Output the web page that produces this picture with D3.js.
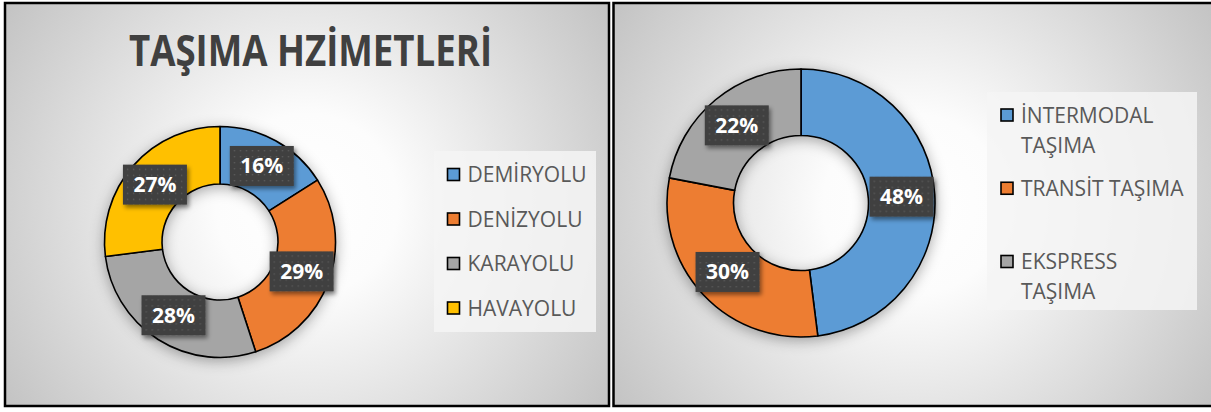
<!DOCTYPE html>
<html>
<head>
<meta charset="utf-8">
<script src="https://cdn.jsdelivr.net/npm/d3@7/dist/d3.min.js"></script>
<style>
  body { margin: 0; background: #fff; }
  text { font-family: "Open Sans", sans-serif; }
</style>
</head>
<body>
<div id="chart"></div>
<script>
var leftTitle = "TAŞIMA HZİMETLERİ";
var leftCategories = ["DEMİRYOLU", "DENİZYOLU", "KARAYOLU", "HAVAYOLU"];
var leftValues = [16, 29, 28, 27];
var leftColors = ["#5B9BD5", "#ED7D31", "#A5A5A5", "#FFC000"];

var rightCategories = [["İNTERMODAL", "TAŞIMA"], ["TRANSİT TAŞIMA"], ["EKSPRESS", "TAŞIMA"]];
var rightValues = [48, 30, 22];
var rightColors = ["#5B9BD5", "#ED7D31", "#A5A5A5"];

var width = 1211, height = 412;

var svg = d3.select('#chart').append('svg')
  .attr('width', width)
  .attr('height', height);

var defs = svg.append('defs');

// dotted fill of the data label boxes
var pat = defs.append('pattern')
  .attr('id', 'dots')
  .attr('width', 6).attr('height', 6)
  .attr('patternUnits', 'userSpaceOnUse');
pat.append('rect').attr('width', 6).attr('height', 6).attr('fill', '#404040');
pat.append('rect').attr('x', 2).attr('y', 2).attr('width', 1.3).attr('height', 1.3).attr('fill', '#5c5c5c');

var ringShadow = defs.append('filter').attr('id', 'ringShadow')
  .attr('x', '-30%').attr('y', '-30%').attr('width', '160%').attr('height', '160%');
ringShadow.append('feDropShadow')
  .attr('dx', 0).attr('dy', 3).attr('stdDeviation', 7)
  .attr('flood-color', '#000').attr('flood-opacity', 0.33);

var boxShadow = defs.append('filter').attr('id', 'boxShadow')
  .attr('x', '-30%').attr('y', '-30%').attr('width', '160%').attr('height', '160%');
boxShadow.append('feDropShadow')
  .attr('dx', 2).attr('dy', 3).attr('stdDeviation', 2)
  .attr('flood-color', '#000').attr('flood-opacity', 0.45);

function drawPanel(cfg) {
  var grad = defs.append('radialGradient')
    .attr('id', cfg.id + 'bg')
    .attr('gradientUnits', 'userSpaceOnUse')
    .attr('cx', cfg.x + cfg.w / 2).attr('cy', cfg.y + cfg.h / 2)
    .attr('r', Math.sqrt(cfg.w * cfg.w + cfg.h * cfg.h) / 2);
  grad.append('stop').attr('offset', 0).attr('stop-color', '#ffffff');
  grad.append('stop').attr('offset', 0.25).attr('stop-color', '#fcfcfc');
  grad.append('stop').attr('offset', 1).attr('stop-color', '#c3c3c3');

  svg.append('rect')
    .attr('x', cfg.x).attr('y', cfg.y)
    .attr('width', cfg.w).attr('height', cfg.h)
    .attr('fill', 'url(#' + cfg.id + 'bg)')
    .attr('stroke', '#000').attr('stroke-width', 2.5);

  var g = svg.append('g');

  if (cfg.title) {
    g.append('text')
      .attr('x', cfg.titleX).attr('y', cfg.titleY)
      .attr('text-anchor', 'middle')
      .attr('font-size', 43).attr('font-weight', 'bold')
      .attr('fill', '#404040')
      .attr('textLength', cfg.titleLen)
      .attr('lengthAdjust', 'spacingAndGlyphs')
      .text(cfg.title);
  }

  var pie = d3.pie().sort(null).value(function(d) { return d; });
  var arc = d3.arc().innerRadius(cfg.inner).outerRadius(cfg.outer);
  var arcs = pie(cfg.values);

  var donut = g.append('g')
    .attr('transform', 'translate(' + cfg.cx + ',' + cfg.cy + ')');

  donut.append('g').attr('filter', 'url(#ringShadow)')
    .selectAll('path').data(arcs).enter().append('path')
    .attr('d', arc)
    .attr('fill', function(d, i) { return cfg.colors[i]; })
    .attr('stroke', '#000').attr('stroke-width', 1.6)
    .attr('stroke-linejoin', 'round');

  var lab = donut.selectAll('g.lab').data(arcs).enter().append('g')
    .attr('class', 'lab')
    .attr('transform', function(d) { return 'translate(' + arc.centroid(d) + ')'; });
  lab.append('rect')
    .attr('x', -32).attr('y', -20).attr('width', 64).attr('height', 40)
    .attr('fill', 'url(#dots)')
    .attr('filter', 'url(#boxShadow)');
  lab.append('text')
    .attr('y', 7.5)
    .attr('text-anchor', 'middle')
    .attr('font-size', 21).attr('font-weight', 'bold')
    .attr('fill', '#fff')
    .text(function(d) { return d.data + '%'; });

  // legend
  var lg = g.append('g');
  lg.append('rect')
    .attr('x', cfg.legX).attr('y', cfg.legY)
    .attr('width', cfg.legW).attr('height', cfg.legH)
    .attr('fill', '#f4f4f4').attr('fill-opacity', 0.85);

  var rowScale = d3.scalePoint()
    .domain(d3.range(cfg.categories.length))
    .range(cfg.rowRange);

  var item = lg.selectAll('g.item').data(cfg.categories).enter().append('g')
    .attr('class', 'item')
    .attr('transform', function(d, i) { return 'translate(' + cfg.markX + ',' + rowScale(i) + ')'; });
  item.append('rect')
    .attr('x', 0).attr('y', -6.5).attr('width', 12).attr('height', 12)
    .attr('fill', function(d, i) { return cfg.colors[i]; })
    .attr('stroke', '#000').attr('stroke-width', 1.6);
  item.append('text')
    .attr('x', 20).attr('y', 7)
    .attr('font-size', 21)
    .attr('fill', '#595959')
    .selectAll('tspan').data(function(d) { return [].concat(d); }).enter().append('tspan')
    .attr('x', 20)
    .attr('dy', function(d, i) { return i ? 30 : 0; })
    .text(function(d) { return d; });
}

drawPanel({
  id: 'left', x: 5, y: 3, w: 604, h: 403,
  title: leftTitle, titleX: 310.5, titleY: 66, titleLen: 363,
  values: leftValues, colors: leftColors, categories: leftCategories,
  cx: 220, cy: 242, outer: 115.5, inner: 58,
  legX: 434, legY: 151, legW: 162, legH: 181,
  markX: 447.5, rowRange: [175, 308.5]
});

drawPanel({
  id: 'right', x: 613.5, y: 3, w: 600, h: 403,
  values: rightValues, colors: rightColors, categories: rightCategories,
  cx: 801, cy: 203, outer: 134, inner: 67.5,
  legX: 987, legY: 92, legW: 210, legH: 218,
  markX: 1001, rowRange: [115.5, 262]
});
</script>
</body>
</html>
